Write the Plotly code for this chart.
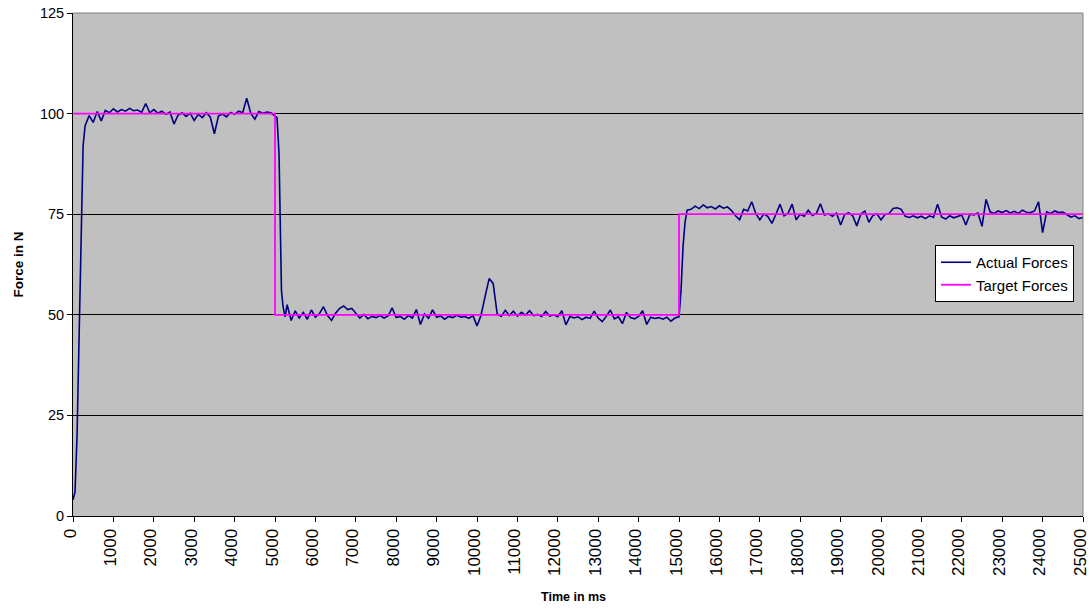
import plotly.graph_objects as go

# ---------------- data ----------------
# Actual forces: start-up ramp
rise_time = [0, 50, 100, 140, 180, 210, 250, 300, 350]
rise_force = [4, 6, 20, 40, 60, 78, 92, 97, 98.5]

# Actual forces: plateau at ~100 N, samples every 100 ms from 400 to 4900
high_time = list(range(400, 5000, 100))
high_force = [
    99.5, 97.8, 100.5, 98.2, 100.8, 100.2,
    101.2, 100.4, 101.0, 100.6, 101.3, 100.7, 100.9, 100.3, 102.5, 100.2,
    101.0, 100.1, 100.6, 99.8, 100.4, 97.4, 99.6, 100.2, 99.3, 100.1,
    98.3, 99.8, 99.0, 100.2, 99.1, 95.0, 99.4, 99.9, 99.2, 100.3,
    99.8, 100.6, 100.2, 103.8, 100.1, 98.6, 100.5, 100.1, 100.4, 100.2,
]

# Actual forces: drop to 50 N
drop_time = [5000, 5050, 5100, 5130, 5160, 5200, 5250]
drop_force = [99.5, 99, 90, 70, 56, 52, 49.5]

# Actual forces: plateau at ~50 N, samples every 100 ms from 5300 to 14900
mid_time = list(range(5300, 15000, 100))
mid_force = [
    52.5, 48.6, 51.0, 49.2, 50.6, 48.9, 51.2,
    49.4, 50.3, 52.0, 49.8, 48.6, 50.4, 51.6, 52.2, 51.3, 51.6,
    50.5, 49.2, 50.1, 49.0, 49.6, 49.3, 49.8, 49.2, 49.7, 51.7,
    49.3, 49.6, 48.9, 49.8, 49.2, 51.3, 47.6, 50.2, 49.1, 51.2,
    49.4, 49.7, 48.9, 49.6, 49.3, 49.9, 49.4, 49.6, 49.1, 49.8,
    47.2, 49.9, 54.5, 59.0, 57.8, 50.2, 49.6, 51.1, 49.8, 50.9,
    49.7, 50.6, 49.9, 51.0, 49.8, 50.1, 49.6, 50.8, 49.7, 50.0,
    49.5, 51.0, 47.5, 49.6, 49.2, 49.5, 48.8, 49.4, 49.1, 50.9,
    49.2, 48.3, 49.6, 51.2, 49.0, 49.5, 47.8, 50.6, 49.3, 49.0,
    49.6, 51.0, 47.6, 49.4, 49.1, 49.3, 48.9, 49.4, 48.4, 49.2,
]

# Actual forces: step up to 75 N
up_time = [15000, 15050, 15100, 15150, 15200]
up_force = [49.5, 56, 67, 73, 76]

# Actual forces: plateau at ~75 N, samples every 100 ms from 15300 to 25000
late_time = list(range(15300, 25100, 100))
late_force = [
    76.2, 77.0, 76.4, 77.3, 76.6, 76.9, 76.3,
    77.1, 76.5, 76.8, 75.9, 74.6, 73.6, 76.2, 75.8, 78.1, 75.2,
    73.6, 75.1, 74.4, 72.7, 75.0, 77.5, 74.6, 75.2, 77.5, 73.6,
    75.0, 74.5, 76.0, 74.7, 75.2, 77.6, 74.8, 75.1, 74.5, 75.3,
    72.3, 74.9, 75.4, 74.6, 72.1, 75.0, 75.8, 73.0, 74.7, 75.1,
    73.6, 74.9, 75.2, 76.4, 76.6, 76.2, 74.5, 74.2, 74.6, 74.1,
    74.5, 73.9, 74.6, 74.2, 77.5, 74.3, 73.8, 74.6, 74.1, 74.4,
    74.8, 72.3, 75.0, 74.8, 75.3, 72.0, 78.7, 75.6, 75.2, 75.8,
    75.4, 75.9, 75.3, 75.7, 75.2, 76.0, 75.5, 75.4, 75.8, 78.1,
    70.4, 75.6, 75.2, 75.8, 75.4, 75.5, 75.0, 74.3, 74.6, 73.9,
    74.2,
]

# Target forces (step profile)
target_time = [0, 5000, 5000, 15000, 15000, 25000]
target_force = [100, 100, 50, 50, 75, 75]

x_ticks = list(range(0, 25001, 1000))
y_ticks = [0, 25, 50, 75, 100, 125]

actual_time = rise_time + high_time + drop_time + mid_time + up_time + late_time
actual_force = rise_force + high_force + drop_force + mid_force + up_force + late_force

# ---------------- figure ----------------
FONT = "Liberation Sans, Arial, sans-serif"

fig = go.Figure()
fig.add_trace(go.Scatter(
    x=actual_time, y=actual_force, mode="lines", name="Actual Forces",
    line=dict(color="#000080", width=1.6),
))
fig.add_trace(go.Scatter(
    x=target_time, y=target_force, mode="lines", name="Target Forces",
    line=dict(color="#FF00FF", width=1.8),
))

fig.update_layout(
    width=1090, height=613,
    margin=dict(l=73, r=7, t=13, b=97, autoexpand=False),
    paper_bgcolor="white",
    plot_bgcolor="#C0C0C0",
    font=dict(family=FONT, color="black"),
    showlegend=True,
    legend=dict(
        x=(935 - 73) / 1010, y=(516 - 245) / 503,
        xanchor="left", yanchor="top",
        bgcolor="white", bordercolor="black", borderwidth=1,
        font=dict(family=FONT, size=15, color="black"),
        tracegroupgap=0,
    ),
    xaxis=dict(
        range=[0, 25000], tickmode="array", tickvals=x_ticks,
        ticktext=[str(v) for v in x_ticks],
        tickangle=-90, ticks="outside", ticklen=5, tickcolor="black",
        tickfont=dict(family=FONT, size=17, color="black"),
        ticklabeloverflow="allow", ticklabelshift=-3, automargin=False,
        showline=True, linecolor="black", linewidth=1,
        showgrid=False, zeroline=False,
    ),
    yaxis=dict(
        range=[0, 125], tickmode="array", tickvals=y_ticks,
        ticktext=[str(v) for v in y_ticks],
        ticks="outside", ticklen=5, tickcolor="black",
        tickfont=dict(family=FONT, size=14.5, color="black"),
        automargin=False,
        showline=True, linecolor="black", linewidth=1,
        showgrid=True, gridcolor="black", gridwidth=1,
        zeroline=False,
    ),
    shapes=[
        dict(type="line", xref="paper", yref="paper", x0=0, x1=1, y0=1, y1=1,
             line=dict(color="#808080", width=1), layer="above"),
        dict(type="line", xref="paper", yref="paper", x0=1, x1=1, y0=0, y1=1,
             line=dict(color="#808080", width=1), layer="above"),
    ],
    annotations=[
        dict(text="<b>Time in ms</b>", xref="paper", yref="paper",
             x=(573 - 73) / 1010, y=(516 - 597) / 503,
             xanchor="center", yanchor="middle", showarrow=False,
             font=dict(family=FONT, size=12.5, color="black")),
        dict(text="<b>Force in N</b>", xref="paper", yref="paper",
             x=(18 - 73) / 1010, y=0.5, textangle=-90,
             xanchor="center", yanchor="middle", showarrow=False,
             font=dict(family=FONT, size=13.5, color="black")),
    ],
)

fig.write_html(
    "out.html",
    config={"displayModeBar": False},
    post_script="document.body.style.margin='0';document.body.style.overflow='hidden';",
)
